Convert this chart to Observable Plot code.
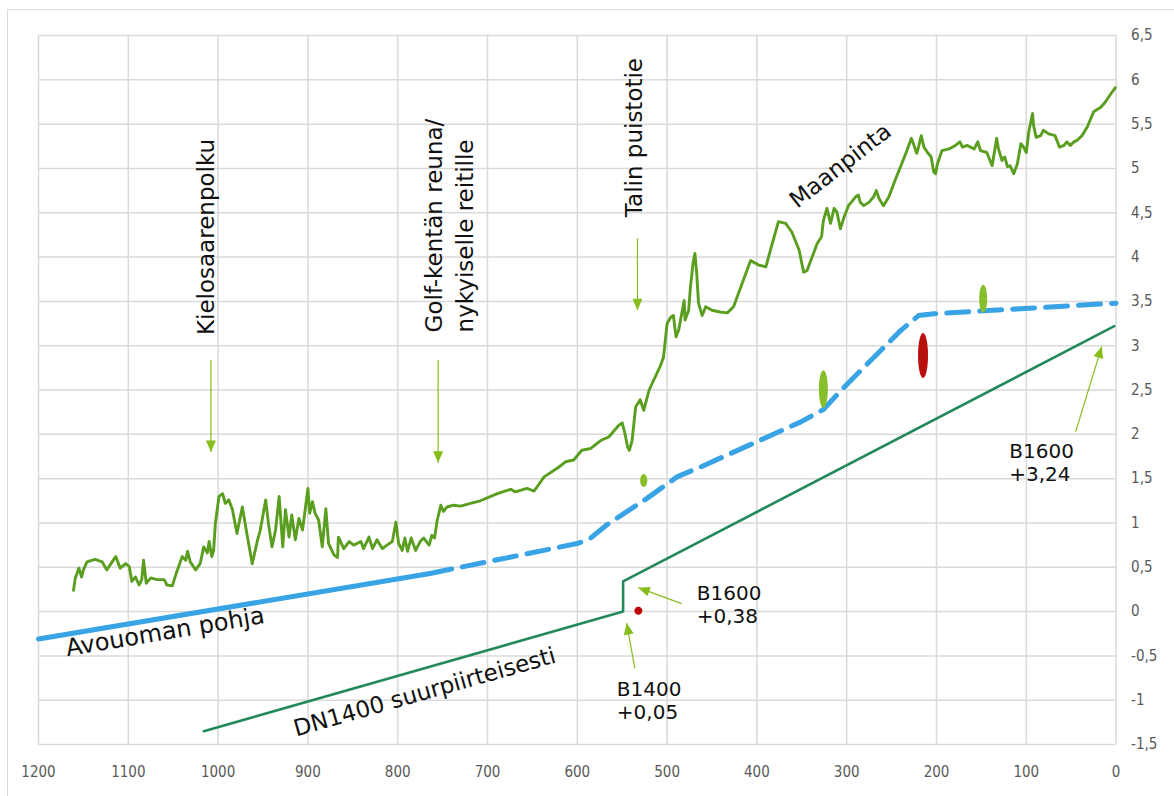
<!DOCTYPE html>
<html>
<head>
<meta charset="utf-8">
<script src="https://cdn.jsdelivr.net/npm/d3@7"></script>
<script src="https://cdn.jsdelivr.net/npm/@observablehq/plot@0.6"></script>
<style>
html, body { margin: 0; padding: 0; background: #fff; overflow: hidden; }
#frame { position: absolute; left: 7px; top: 9px; width: 1300px; height: 900px; border: 1px solid #d9d9d9; }
#chart { position: absolute; left: 0; top: 0; }
</style>
</head>
<body>
<div id="frame"></div>
<div id="chart"></div>
<script>
// ---------- DATA ----------
const xTicks = [0, 100, 200, 300, 400, 500, 600, 700, 800, 900, 1000, 1100, 1200];
const yTicks = [-1.5, -1, -0.5, 0, 0.5, 1, 1.5, 2, 2.5, 3, 3.5, 4, 4.5, 5, 5.5, 6, 6.5];

// Maanpinta (ground surface)
const groundDist = [1161,1159,1155,1152,1150,1146,1137,1129,1124,1114,1109,1103,1099,1096,1092,1088,1085,1083,1080,1075,
  1068,1060,1057,1051,1046,1040,1036,1034,1031,1025,1020,1016,1012,1010,1007,1005,1003,999,995,992,
  988,984,979,973,968,962,956,953,947,944,940,936,932,928,925,921,918,914,910,906,
  903,900,898,895,892,888,884,880,877,871,867,866,860,854,849,841,838,832,828,823,
  817,812,806,802,799,795,792,789,785,780,775,771,765,762,759,756,752,749,745,738,
  730,719,708,689,674,669,656,648,637,622,613,604,595,585,574,565,554,550,547,544,
  542,539,535,530,526,520,515,508,504,502,500,496,493,490,487,483,481,480,476,474,
  471,469,467,465,461,457,450,441,433,426,418,407,398,390,383,376,368,361,353,348,
  344,333,328,326,322,318,314,311,307,303,298,290,287,285,281,275,270,267,264,259,
  253,246,240,233,228,225,222,220,217,214,210,206,203,201,199,194,186,179,174,171,
  166,158,154,151,144,138,133,131,127,124,121,118,114,110,106,103,100,97,93,92,
  89,84,81,75,68,63,58,55,51,47,43,38,32,25,17,12,6,1];
const groundElev = [0.24,0.38,0.49,0.39,0.47,0.56,0.59,0.56,0.47,0.62,0.49,0.54,0.51,0.34,0.39,0.30,0.36,0.58,0.32,0.38,
  0.36,0.36,0.30,0.29,0.45,0.62,0.58,0.68,0.56,0.47,0.54,0.73,0.66,0.79,0.62,0.69,1.00,1.30,1.33,1.22,
  1.26,1.15,0.88,1.18,0.88,0.54,0.81,0.92,1.26,1.00,0.73,0.92,1.30,0.73,1.15,0.84,1.09,0.81,1.05,0.92,
  1.15,1.39,1.11,1.24,1.11,1.03,0.73,1.16,0.77,0.64,0.61,0.84,0.71,0.79,0.75,0.79,0.71,0.84,0.71,0.81,
  0.71,0.75,0.79,1.01,0.77,0.69,0.83,0.68,0.83,0.69,0.79,0.83,0.75,0.86,0.83,1.03,1.20,1.13,1.18,1.20,
  1.19,1.22,1.25,1.33,1.38,1.35,1.39,1.36,1.52,1.62,1.69,1.71,1.82,1.84,1.93,1.97,2.10,2.13,2.01,1.86,
  1.82,1.93,2.31,2.39,2.27,2.50,2.61,2.76,2.87,3.06,3.25,3.32,3.34,3.10,3.18,3.40,3.51,3.29,3.40,3.66,
  3.94,4.04,3.81,3.48,3.34,3.44,3.40,3.38,3.37,3.44,3.66,3.96,3.91,3.89,4.15,4.40,4.38,4.28,4.08,3.83,
  3.85,4.15,4.23,4.41,4.55,4.38,4.55,4.51,4.32,4.45,4.58,4.68,4.70,4.62,4.58,4.62,4.68,4.75,4.66,4.58,
  4.68,4.87,5.02,5.20,5.34,5.26,5.17,5.24,5.37,5.24,5.18,5.13,4.96,4.94,5.05,5.20,5.22,5.26,5.30,5.24,
  5.26,5.22,5.30,5.20,5.18,5.03,5.34,5.22,5.09,5.13,5.02,5.03,4.94,5.05,5.28,5.24,5.18,5.43,5.62,5.49,
  5.35,5.37,5.43,5.39,5.37,5.24,5.26,5.30,5.26,5.30,5.32,5.37,5.47,5.64,5.69,5.75,5.84,5.91];

// Avouoman pohja (channel bottom): existing (solid) and planned (dashed)
const channelNowDist = [1200, 764];
const channelNowElev = [-0.31, 0.43];
const channelPlanDist = [764, 599, 585, 567, 552, 522, 489, 463, 351, 326, 304, 240, 220, 203, 0];
const channelPlanElev = [0.43, 0.77, 0.83, 0.98, 1.08, 1.28, 1.52, 1.63, 2.14, 2.28, 2.52, 3.17, 3.34, 3.36, 3.48];

// DN1400 / B1600 pipe
const pipeDist = [1016, 549, 549, 2];
const pipeElev = [-1.35, 0.0, 0.34, 3.22];

// point markers
const markerDist = [526, 326, 215, 148, 532];
const markerElev = [1.48, 2.51, 2.89, 3.53, 0.01];

// arrows: from -> to (tip)
const arrowFromDist = [1008, 755, 533, 45, 484, 536];
const arrowFromElev = [2.84, 2.84, 4.21, 2.03, 0.09, -0.64];
const arrowToDist   = [1008, 755, 533, 16, 532, 545];
const arrowToElev   = [1.80, 1.68, 3.40, 2.99, 0.27, -0.13];

// labels
const labelText = ["Kielosaarenpolku", "Golf-kentän reuna/\nnykyiselle reitille", "Talin puistotie", "Maanpinta",
  "Avouoman pohja", "DN1400 suurpiirteisesti", "B1600\n+3,24", "B1600\n+0,38", "B1400\n+0,05"];
const labelDist = [1013, 744, 536, 307, 1059, 770, 119, 467, 556];
const labelElev = [3.12, 3.15, 4.45, 5.03, -0.23, -0.91, 1.69, 0.08, -1.0];

// ---------- STYLES ----------
const W = 1174, H = 796;
const M = {left: 38, right: 58.4, top: 35, bottom: 52};
const GREEN = "#5a9e1f", BLUE = "#38a3e5", PIPE = "#23895b", LIME = "#86bd1c";
const markerStyle = [
  {fill: "#86bf2a", r: 3.6, aspect: 1.8},
  {fill: "#86bf2a", r: 4.5, aspect: 4.2},
  {fill: "#b8100c", r: 5, aspect: 4.5},
  {fill: "#86bf2a", r: 4, aspect: 3.5},
  {fill: "#c00000", r: 4, aspect: 1}
];
const labelStyle = [
  {rotate: -90, textAnchor: "start", fontSize: 23},
  {rotate: -90, textAnchor: "start", fontSize: 23, lineHeight: 1.35},
  {rotate: -90, textAnchor: "start", fontSize: 23},
  {rotate: -38, textAnchor: "middle", fontSize: 23},
  {rotate: -9.5, textAnchor: "middle", fontSize: 24},
  {rotate: -15.9, textAnchor: "middle", fontSize: 23},
  {rotate: 0, textAnchor: "start", fontSize: 20, lineHeight: 1.15},
  {rotate: 0, textAnchor: "start", fontSize: 20, lineHeight: 1.15},
  {rotate: 0, textAnchor: "start", fontSize: 20, lineHeight: 1.15}
];

// ---------- BUILD ----------
const ground = groundDist.map((d, i) => ({d, v: groundElev[i]}));
const chNow = channelNowDist.map((d, i) => ({d, v: channelNowElev[i]}));
const chPlan = channelPlanDist.map((d, i) => ({d, v: channelPlanElev[i]}));
const pipe = pipeDist.map((d, i) => ({d, v: pipeElev[i]}));
const markers = markerDist.map((d, i) => ({d, v: markerElev[i]}));
const labels = labelText.map((t, i) => ({t, d: labelDist[i], v: labelElev[i]}));

const base = {
  width: W, height: H,
  marginLeft: M.left, marginRight: M.right, marginTop: M.top, marginBottom: M.bottom,
  x: {domain: [1200, 0], ticks: xTicks, tickSize: 0, tickPadding: 22, label: null, tickFormat: d => String(d)},
  y: {domain: [-1.5, 6.5], ticks: yTicks, tickSize: 0, tickPadding: 15, label: null, axis: "right",
      tickFormat: d => String(d).replace(".", ",")},
  style: {background: "transparent", fontFamily: "'Liberation Sans Narrow', 'DejaVu Sans Condensed', sans-serif",
          fontSize: "15px", color: "#595959"}
};

// scales from a first pass, to orient arrowheads
const probe = Plot.plot({...base, marks: []});
const X = probe.scale("x"), Y = probe.scale("y");
const arrows = arrowFromDist.map((d, i) => {
  const x1 = X.apply(d), y1 = Y.apply(arrowFromElev[i]);
  const x2 = X.apply(arrowToDist[i]), y2 = Y.apply(arrowToElev[i]);
  return {d1: d, v1: arrowFromElev[i], d2: arrowToDist[i], v2: arrowToElev[i],
          angle: Math.atan2(x2 - x1, -(y2 - y1)) * 180 / Math.PI};
});

const arrowHead = {draw(ctx, size) {
  const r = Math.sqrt(size / Math.PI), h = r * 2.3;
  ctx.moveTo(0, 0); ctx.lineTo(-r, h); ctx.lineTo(r, h); ctx.closePath();
}};
function ellipse(aspect) {
  return {draw(ctx, size) {
    const rx = Math.sqrt(size / Math.PI), ry = rx * aspect, k = 0.5523;
    ctx.moveTo(rx, 0);
    ctx.bezierCurveTo(rx, ry * k, rx * k, ry, 0, ry);
    ctx.bezierCurveTo(-rx * k, ry, -rx, ry * k, -rx, 0);
    ctx.bezierCurveTo(-rx, -ry * k, -rx * k, -ry, 0, -ry);
    ctx.bezierCurveTo(rx * k, -ry, rx, -ry * k, rx, 0);
    ctx.closePath();
  }};
}

const marks = [
  Plot.ruleX(xTicks, {x: d => d, stroke: "#d9d9d9", strokeWidth: 1.5}),
  Plot.ruleY(yTicks, {y: d => d, stroke: "#d9d9d9", strokeWidth: 1.5}),
  Plot.line(chNow, {x: "d", y: "v", stroke: BLUE, strokeWidth: 5}),
  Plot.line(chPlan, {x: "d", y: "v", stroke: BLUE, strokeWidth: 5, strokeDasharray: "22,11", strokeLinejoin: "round"}),
  Plot.line(pipe, {x: "d", y: "v", stroke: PIPE, strokeWidth: 2.6}),
  Plot.line(ground, {x: "d", y: "v", stroke: GREEN, strokeWidth: 2.9, strokeLinejoin: "round"}),
  Plot.link(arrows, {x1: "d1", y1: "v1", x2: "d2", y2: "v2", stroke: LIME, strokeWidth: 1.2}),
  Plot.dot(arrows, {x: "d2", y: "v2", rotate: "angle", symbol: arrowHead, r: 5, fill: LIME, stroke: "none"}),
  ...markers.map((m, i) => Plot.dot([m], {x: "d", y: "v", r: markerStyle[i].r,
      symbol: ellipse(markerStyle[i].aspect), fill: markerStyle[i].fill, stroke: "none"})),
  ...labels.map((l, i) => Plot.text([l], {x: "d", y: "v", text: "t", fill: "#111",
      fontFamily: "'DejaVu Sans', sans-serif", ...labelStyle[i]}))
];

const chart = Plot.plot({...base, marks});
document.getElementById("chart").append(chart);
</script>
</body>
</html>
